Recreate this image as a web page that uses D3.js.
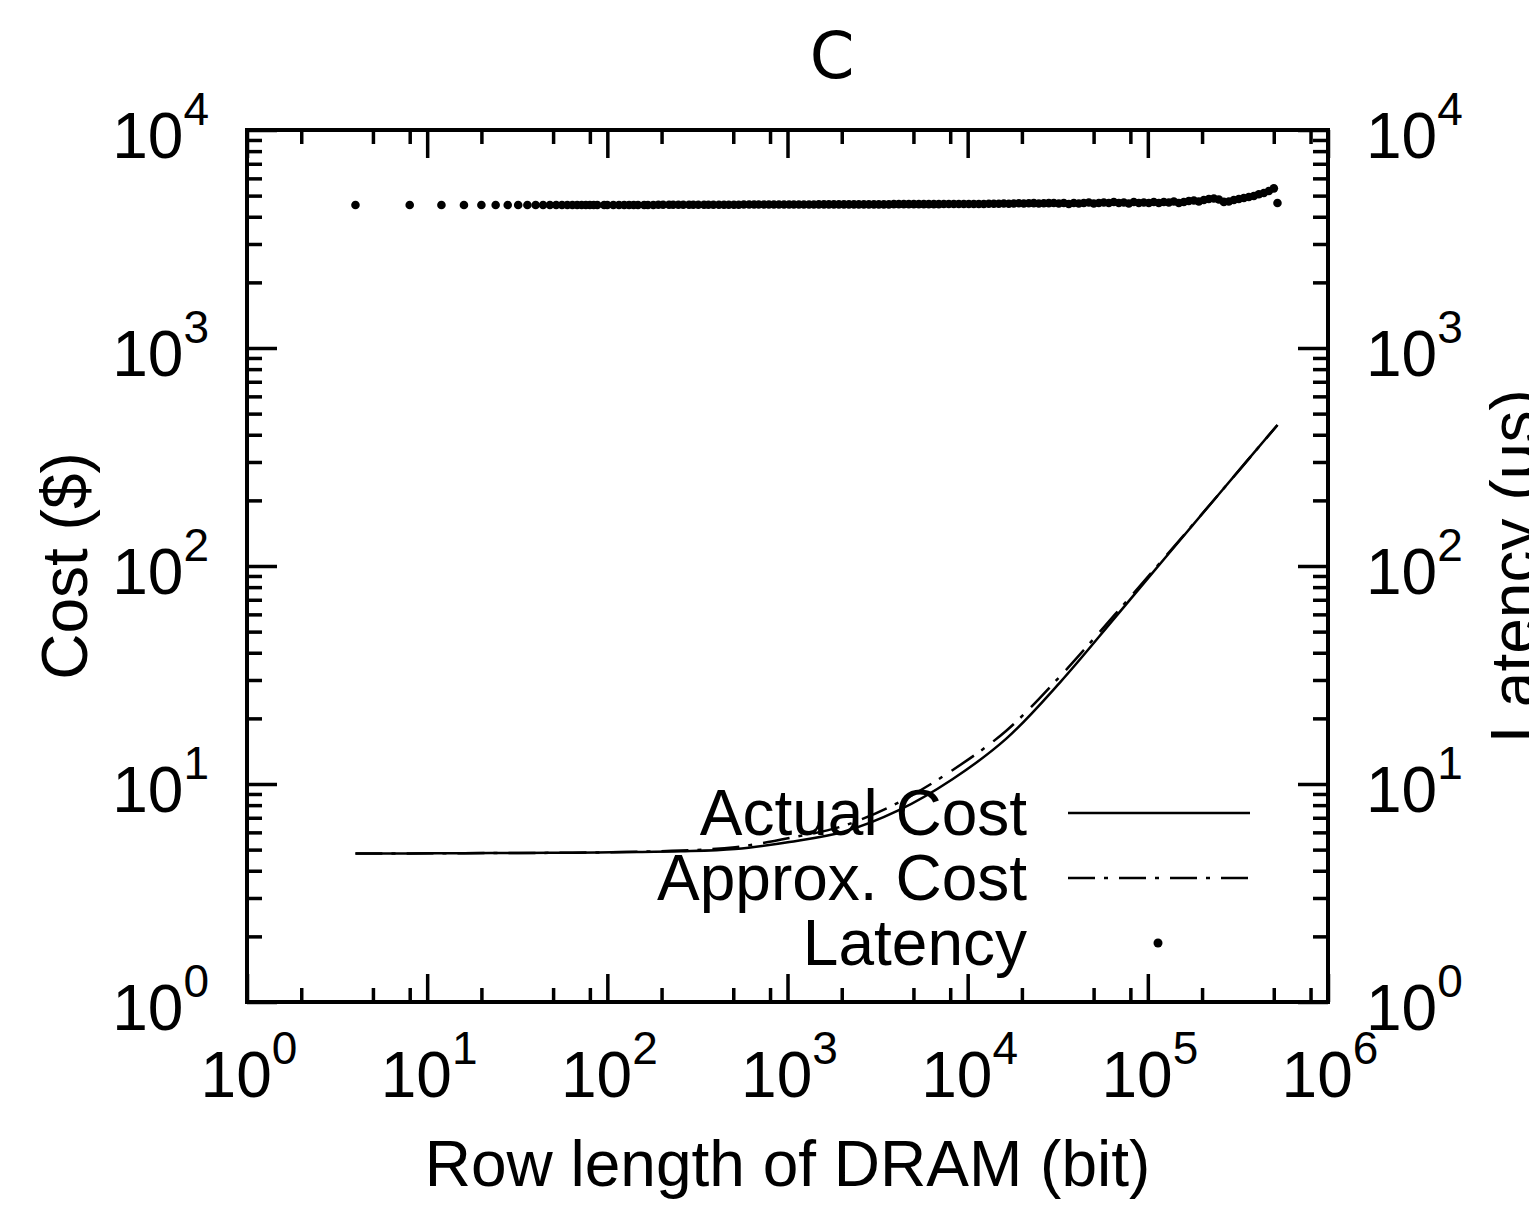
<!DOCTYPE html>
<html>
<head>
<meta charset="utf-8">
<script src="https://cdn.jsdelivr.net/npm/d3@7"></script>
<style>
html, body { margin: 0; padding: 0; background: #fff; }
svg { display: block; }
</style>
</head>
<body>
<svg id="chart" width="1529" height="1207"></svg>
<script>
// ---------------- DATA ----------------
const titleText = "C";
const xLabelText = "Row length of DRAM (bit)";
const yLabelText = "Cost ($)";
const y2LabelText = "Latency (\u03bcs)";
const seriesNames = ["Actual Cost", "Approx. Cost", "Latency"];

const xMajorExp = [0, 1, 2, 3, 4, 5, 6];
const yMajorExp = [0, 1, 2, 3, 4];
const xMinorMult = [2, 5, 8];
const yMinorMult = [2, 3, 4, 5, 6, 7, 8, 9];

// Row length (bit) for the cost curves
const costX = [4, 8, 16, 32, 64, 128, 256, 512, 1024, 2048, 4096, 8192, 16384, 32768, 65536, 131072, 262144, 524288];
const actualCost = [4.80, 4.805, 4.815, 4.825, 4.84, 4.87, 4.91, 5.03, 5.42, 6.04, 7.54, 10.49, 16.14, 29.43, 57.8, 114.5, 225.5, 443.5];
const approxCost = [4.80, 4.805, 4.815, 4.825, 4.84, 4.88, 4.95, 5.13, 5.65, 6.43, 8.20, 11.54, 17.56, 31.35, 59.8, 115.5, 225.5, 443.5];

// Latency scatter (row length, latency in us)
const latX = [4, 8, 12, 16, 20, 24, 28, 32, 36, 40, 44, 48, 52, 56, 60, 64, 68, 72, 76, 80,
  84, 88, 96, 100, 108, 116, 124, 132, 140, 148, 160, 168, 180, 192, 204, 220, 232, 248, 264, 284,
  300, 320, 344, 364, 388, 416, 444, 472, 504, 536, 572, 612, 652, 692, 740, 788, 840, 896, 956, 1020,
  1084, 1156, 1232, 1316, 1400, 1492, 1592, 1696, 1808, 1928, 2056, 2192, 2336, 2488, 2652, 2828, 3016, 3212, 3424, 3652,
  3892, 4148, 4420, 4712, 5024, 5356, 5708, 6084, 6488, 6916, 7372, 7856, 8376, 8928, 9516, 10144, 10812, 11528, 12288, 13100,
  13964, 14884, 15868, 16916, 18032, 19220, 20488, 21840, 23284, 24820, 26460, 28204,
  30064, 32048, 34164, 36420, 38824, 41388, 44120, 47032, 50136, 53444, 56972, 60732, 64740, 69012, 73568, 78424,
  83600, 89116, 94996, 101264, 107948, 115072, 122668, 130764, 139392, 148592, 158400, 168856, 180000, 191880, 204544, 218044,
  232436, 247776, 264128, 281560, 300144, 319956, 341072, 363584, 387580, 413160, 440428, 469496, 500484, 524288];
const latY = [4530, 4530, 4530, 4530, 4530, 4530, 4530, 4530, 4530, 4530, 4530, 4530, 4530, 4530, 4530, 4530, 4530, 4530, 4530, 4530,
  4530, 4530, 4530, 4530, 4530, 4530, 4530, 4530, 4530, 4530, 4530, 4530, 4530, 4540, 4540, 4540, 4540, 4540, 4540, 4540,
  4540, 4540, 4540, 4540, 4540, 4540, 4540, 4540, 4540, 4540, 4550, 4550, 4550, 4550, 4550, 4550, 4550, 4550, 4550, 4550,
  4550, 4550, 4550, 4550, 4550, 4560, 4560, 4560, 4560, 4560, 4560, 4560, 4560, 4560, 4560, 4560, 4560, 4560, 4560, 4560,
  4570, 4570, 4570, 4570, 4570, 4570, 4570, 4570, 4570, 4570, 4580, 4580, 4580, 4580, 4580, 4580, 4580, 4580, 4580, 4590,
  4590, 4590, 4600, 4590, 4600, 4610, 4600, 4610, 4620, 4600, 4610, 4620,
  4626, 4600, 4626, 4578, 4626, 4600, 4626, 4650, 4600, 4626, 4650, 4626, 4675, 4626, 4650, 4600,
  4675, 4626, 4650, 4626, 4675, 4626, 4675, 4650, 4700, 4626, 4675, 4725, 4750, 4700, 4775, 4826,
  4851, 4800, 4680, 4700, 4775, 4826, 4877, 4929, 4981, 5070, 5140, 5250, 5400, 4626];

// ---------------- DRAWING ----------------
const plot = { left: 247, right: 1328, top: 130, bottom: 1002 };
const FONT = "'Liberation Sans', Arial, Helvetica, sans-serif";

const svg = d3.select("#chart");

const x = d3.scaleLog().domain([1, 1e6]).range([plot.left, plot.right]);
const y = d3.scaleLog().domain([1, 1e4]).range([plot.bottom, plot.top]);
const y2 = d3.scaleLog().domain([1, 1e4]).range([plot.bottom, plot.top]);

const xMajor = xMajorExp.map(e => Math.pow(10, e));
const yMajor = yMajorExp.map(e => Math.pow(10, e));
const xMinor = [];
xMajorExp.slice(0, -1).forEach(e => xMinorMult.forEach(m => xMinor.push(m * Math.pow(10, e))));
const yMinor = [];
yMajorExp.slice(0, -1).forEach(e => yMinorMult.forEach(m => yMinor.push(m * Math.pow(10, e))));

function styleAxis(g) {
  g.select(".domain").remove();
  g.selectAll(".tick line").attr("stroke", "#000").attr("stroke-width", 3.5);
  g.selectAll(".tick text").remove();
}

// inward ticks on all four sides
const tickDefs = [
  { gen: d3.axisBottom, scale: x, pos: `translate(0,${plot.bottom})`, vals: xMajor, len: 28 },
  { gen: d3.axisBottom, scale: x, pos: `translate(0,${plot.bottom})`, vals: xMinor, len: 14 },
  { gen: d3.axisTop, scale: x, pos: `translate(0,${plot.top})`, vals: xMajor, len: 28 },
  { gen: d3.axisTop, scale: x, pos: `translate(0,${plot.top})`, vals: xMinor, len: 14 },
  { gen: d3.axisLeft, scale: y, pos: `translate(${plot.left},0)`, vals: yMajor, len: 30 },
  { gen: d3.axisLeft, scale: y, pos: `translate(${plot.left},0)`, vals: yMinor, len: 15 },
  { gen: d3.axisRight, scale: y2, pos: `translate(${plot.right},0)`, vals: yMajor, len: 30 },
  { gen: d3.axisRight, scale: y2, pos: `translate(${plot.right},0)`, vals: yMinor, len: 15 }
];
tickDefs.forEach(d => {
  svg.append("g")
    .attr("transform", d.pos)
    .call(d.gen(d.scale).tickValues(d.vals).tickSize(-d.len).tickFormat(""))
    .call(styleAxis);
});

// frame
svg.append("rect")
  .attr("x", plot.left).attr("y", plot.top)
  .attr("width", plot.right - plot.left).attr("height", plot.bottom - plot.top)
  .attr("fill", "none").attr("stroke", "#000").attr("stroke-width", 4);

// tick labels (10^n)
function powLabel(sel, exp) {
  sel.append("tspan").text("10");
  sel.append("tspan").attr("font-size", 46).attr("dy", -33).text(String(exp));
}
xMajorExp.forEach(e => {
  svg.append("text")
    .attr("x", x(Math.pow(10, e)) + 2).attr("y", 1097)
    .attr("text-anchor", "middle")
    .attr("font-family", FONT).attr("font-size", 64).attr("fill", "#000")
    .call(powLabel, e);
});
yMajorExp.forEach(e => {
  svg.append("text")
    .attr("x", 209).attr("y", y(Math.pow(10, e)) + 28)
    .attr("text-anchor", "end")
    .attr("font-family", FONT).attr("font-size", 64).attr("fill", "#000")
    .call(powLabel, e);
  svg.append("text")
    .attr("x", 1366).attr("y", y2(Math.pow(10, e)) + 28)
    .attr("text-anchor", "start")
    .attr("font-family", FONT).attr("font-size", 64).attr("fill", "#000")
    .call(powLabel, e);
});

// cost curves
const line = d3.line().curve(d3.curveCatmullRom.alpha(0.5));
svg.append("path")
  .attr("d", line(costX.map((v, i) => [x(v), y(actualCost[i])])))
  .attr("fill", "none").attr("stroke", "#000").attr("stroke-width", 2.5);
svg.append("path")
  .attr("d", line(costX.map((v, i) => [x(v), y(approxCost[i])])))
  .attr("fill", "none").attr("stroke", "#000").attr("stroke-width", 2.5)
  .attr("stroke-dasharray", "27,9,4,11");

// latency points
svg.append("g").selectAll("circle")
  .data(latX.map((v, i) => [v, latY[i]]))
  .join("circle")
  .attr("cx", d => x(d[0])).attr("cy", d => y2(d[1]))
  .attr("r", 4.3).attr("fill", "#000");

// legend
const legendRows = [
  { name: seriesNames[0], y: 813, type: "solid" },
  { name: seriesNames[1], y: 878, type: "dashdot" },
  { name: seriesNames[2], y: 943, type: "dot" }
];
legendRows.forEach(r => {
  svg.append("text")
    .attr("x", 1027).attr("y", r.y + 22)
    .attr("text-anchor", "end")
    .attr("font-family", FONT).attr("font-size", 64).attr("fill", "#000")
    .text(r.name);
  if (r.type === "dot") {
    svg.append("circle").attr("cx", 1158).attr("cy", r.y).attr("r", 4.5).attr("fill", "#000");
  } else {
    svg.append("line")
      .attr("x1", 1068).attr("x2", 1250).attr("y1", r.y).attr("y2", r.y)
      .attr("stroke", "#000").attr("stroke-width", 2.5)
      .attr("stroke-dasharray", r.type === "dashdot" ? "27,9,4,11" : null);
  }
});

// axis titles
svg.append("text")
  .attr("x", (plot.left + plot.right) / 2).attr("y", 1186)
  .attr("text-anchor", "middle")
  .attr("font-family", FONT).attr("font-size", 64).attr("fill", "#000")
  .text(xLabelText);
svg.append("text")
  .attr("transform", `translate(87,${(plot.top + plot.bottom) / 2}) rotate(-90)`)
  .attr("text-anchor", "middle")
  .attr("font-family", FONT).attr("font-size", 64).attr("fill", "#000")
  .text(yLabelText);
svg.append("text")
  .attr("transform", `translate(1536,${(plot.top + plot.bottom) / 2}) rotate(-90)`)
  .attr("text-anchor", "middle")
  .attr("font-family", FONT).attr("font-size", 64).attr("fill", "#000")
  .text(y2LabelText);

// title
svg.append("text")
  .attr("x", 832).attr("y", 78)
  .attr("text-anchor", "middle")
  .attr("font-family", "'DejaVu Sans', sans-serif").attr("font-size", 64).attr("fill", "#000")
  .text(titleText);
</script>
</body>
</html>
